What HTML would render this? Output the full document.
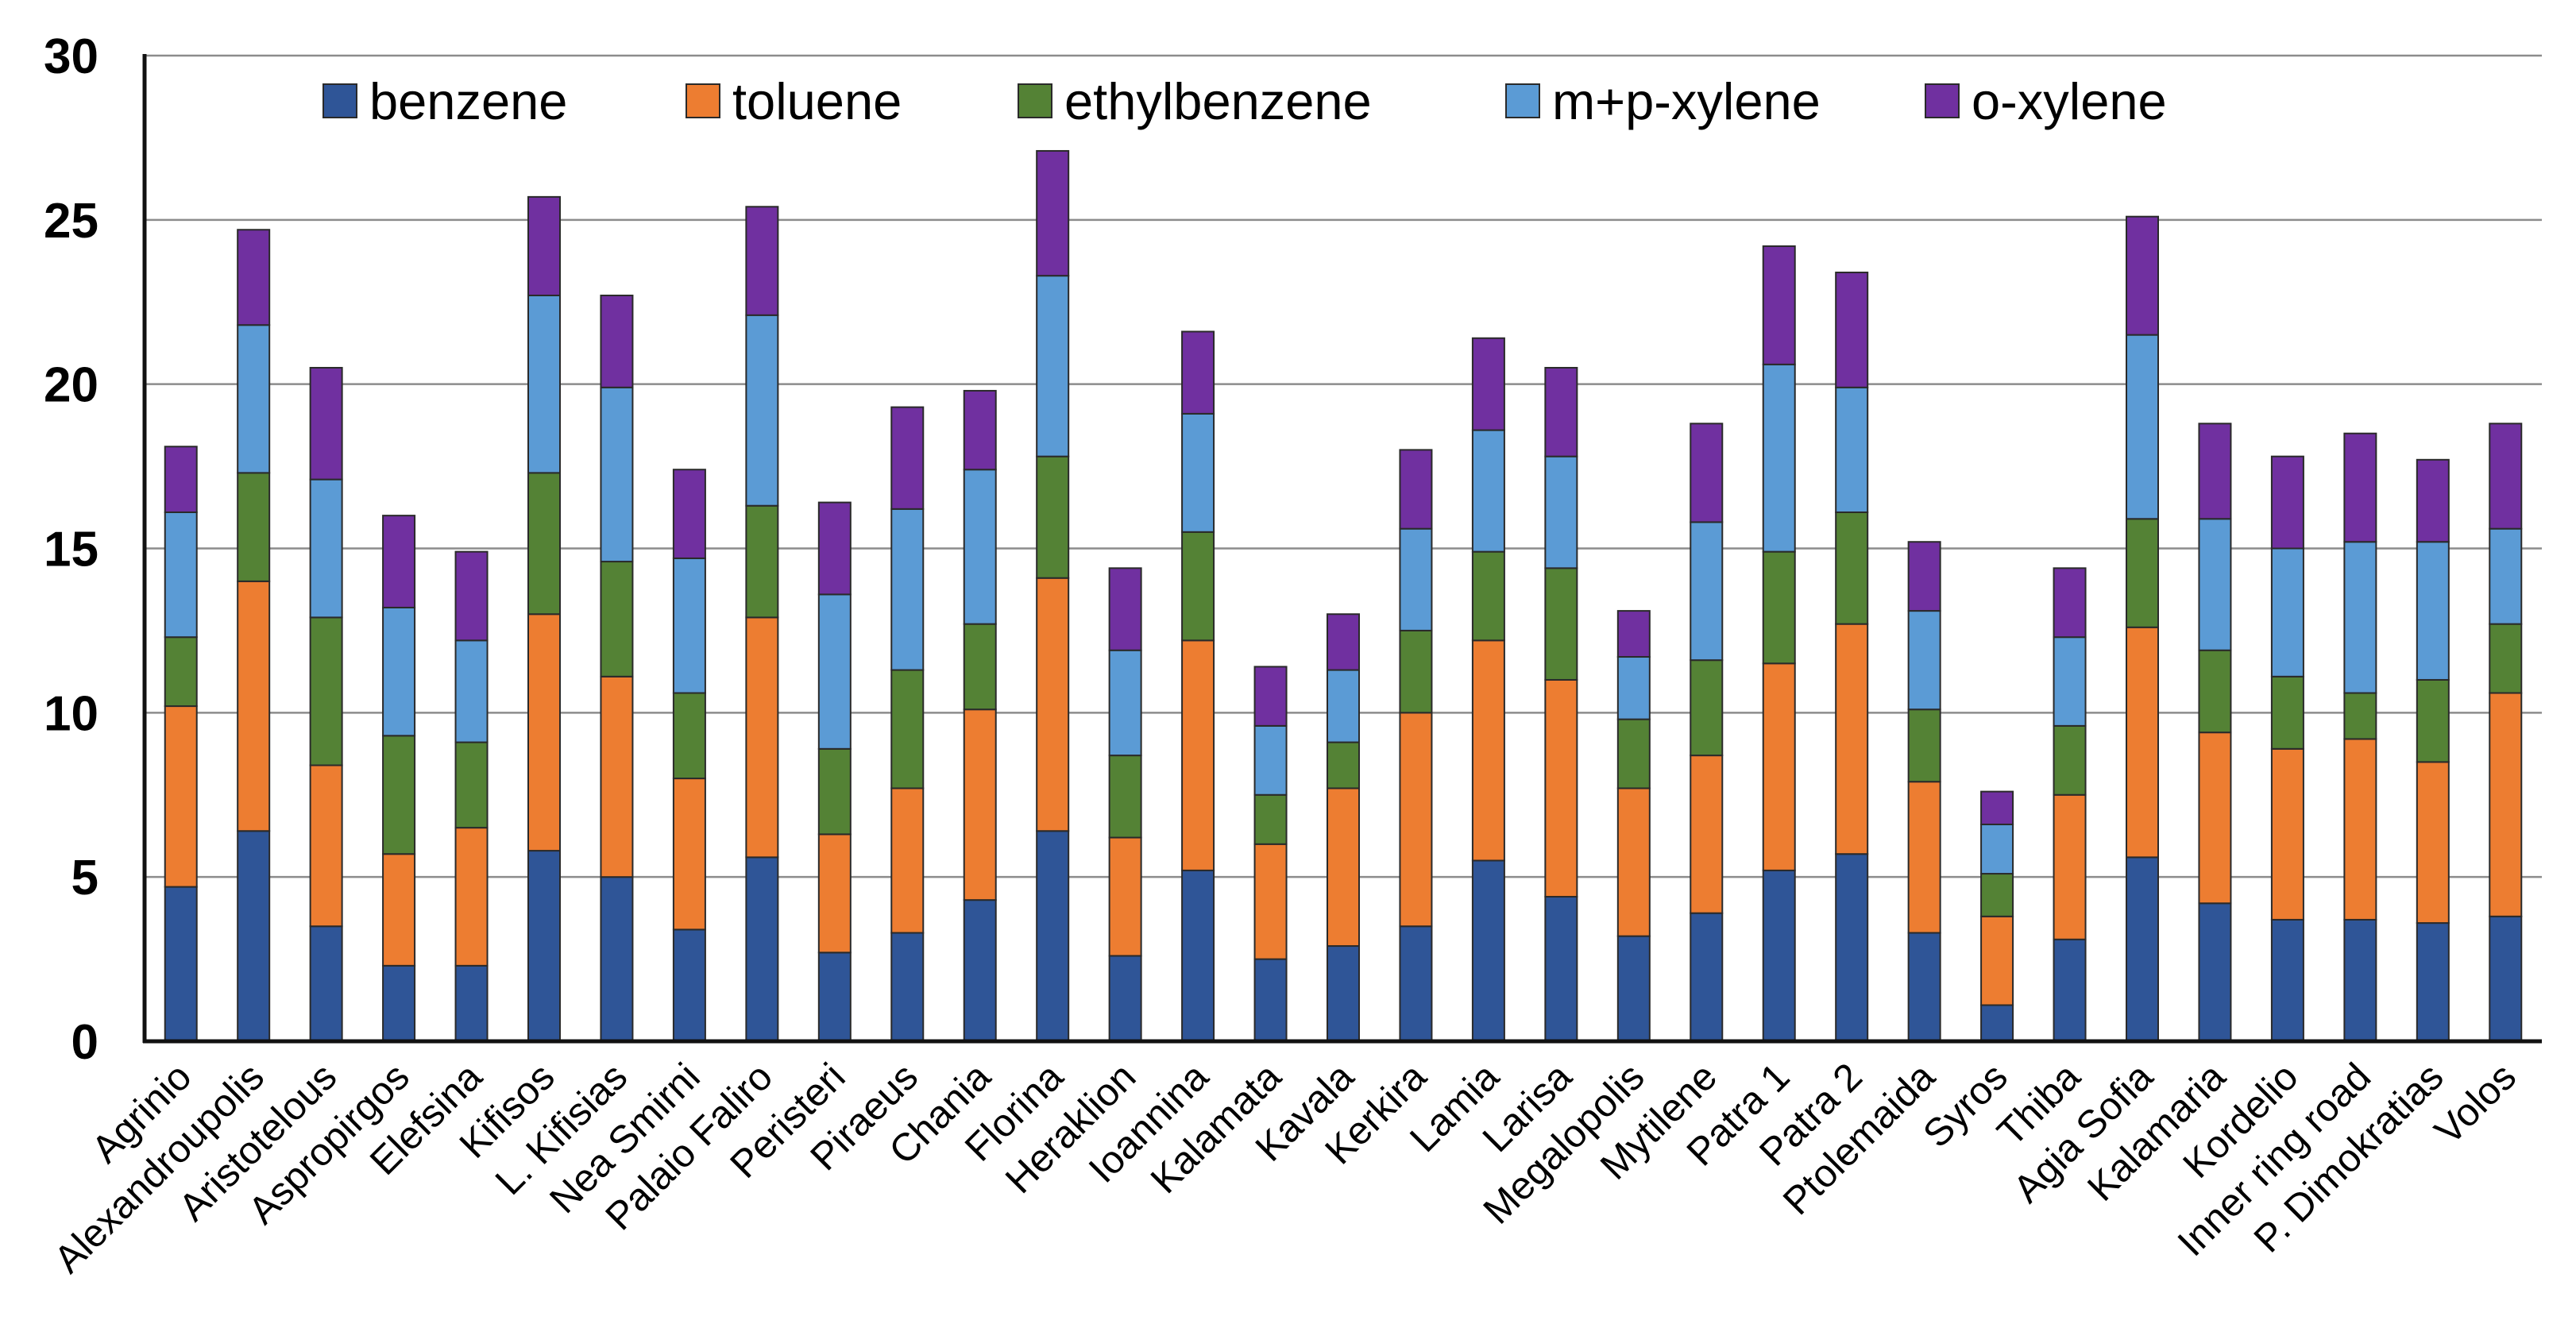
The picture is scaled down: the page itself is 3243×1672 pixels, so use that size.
<!DOCTYPE html>
<html><head><meta charset="utf-8"><style>
html,body{margin:0;padding:0;background:#fff;}
svg{display:block;font-family:"Liberation Sans",Arial,sans-serif;}
</style></head><body>
<svg id="chart" width="3243" height="1672" viewBox="0 0 3243 1672" xmlns="http://www.w3.org/2000/svg">
<g id="grid"></g>
<g id="bars"></g>
<g id="axes"></g>
<g id="ylabels"></g>
<g id="xlabels"></g>
<g id="legend"></g>
</svg>
<script>
const categories = ["Agrinio","Alexandroupolis","Aristotelous","Aspropirgos","Elefsina","Kifisos","L. Kifisias","Nea Smirni","Palaio Faliro","Peristeri","Piraeus","Chania","Florina","Heraklion","Ioannina","Kalamata","Kavala","Kerkira","Lamia","Larisa","Megalopolis","Mytilene","Patra 1","Patra 2","Ptolemaida","Syros","Thiba","Agia Sofia","Kalamaria","Kordelio","Inner ring road","P. Dimokratias","Volos"];
const benzene = [4.7,6.4,3.5,2.3,2.3,5.8,5.0,3.4,5.6,2.7,3.3,4.3,6.4,2.6,5.2,2.5,2.9,3.5,5.5,4.4,3.2,3.9,5.2,5.7,3.3,1.1,3.1,5.6,4.2,3.7,3.7,3.6,3.8];
const toluene = [5.5,7.6,4.9,3.4,4.2,7.2,6.1,4.6,7.3,3.6,4.4,5.8,7.7,3.6,7.0,3.5,4.8,6.5,6.7,6.6,4.5,4.8,6.3,7.0,4.6,2.7,4.4,7.0,5.2,5.2,5.5,4.9,6.8];
const ethylbenzene = [2.1,3.3,4.5,3.6,2.6,4.3,3.5,2.6,3.4,2.6,3.6,2.6,3.7,2.5,3.3,1.5,1.4,2.5,2.7,3.4,2.1,2.9,3.4,3.4,2.2,1.3,2.1,3.3,2.5,2.2,1.4,2.5,2.1];
const mpXylene = [3.8,4.5,4.2,3.9,3.1,5.4,5.3,4.1,5.8,4.7,4.9,4.7,5.5,3.2,3.6,2.1,2.2,3.1,3.7,3.4,1.9,4.2,5.7,3.8,3.0,1.5,2.7,5.6,4.0,3.9,4.6,4.2,2.9];
const oXylene = [2.0,2.9,3.4,2.8,2.7,3.0,2.8,2.7,3.3,2.8,3.1,2.4,3.8,2.5,2.5,1.8,1.7,2.4,2.8,2.7,1.4,3.0,3.6,3.5,2.1,1.0,2.1,3.6,2.9,2.8,3.3,2.5,3.2];
const seriesNames = ["benzene","toluene","ethylbenzene","m+p-xylene","o-xylene"];
const yTicks = [0,5,10,15,20,25,30];

const NS="http://www.w3.org/2000/svg";
const colors=["#2f5597","#ed7d31","#548235","#5b9bd5","#7030a0"];
const L=182,R=3200,T=70,B=1311,yMax=30;
const y=v=>B-(v/yMax)*(B-T);
const step=(R-L)/categories.length;
const xc=i=>L+step*(i+0.5);
const bw=40;
function mk(tag,attrs,parent){const e=document.createElementNS(NS,tag);for(const k in attrs)e.setAttribute(k,attrs[k]);parent.appendChild(e);return e;}
const grid=document.getElementById('grid');
yTicks.forEach(t=>{if(t===0)return;
 const ln=mk('line',{x1:L,x2:R,y1:y(t),y2:y(t),stroke:'#8c8c8c','stroke-width':2.5},grid);
 
 
});
const bars=document.getElementById('bars');
const series=[benzene,toluene,ethylbenzene,mpXylene,oXylene];
categories.forEach((c,i)=>{let cum=0;
 series.forEach((s,k)=>{const v0=cum;cum+=s[i];
  const r=mk('rect',{x:xc(i)-bw/2,y:y(cum),width:bw,height:y(v0)-y(cum),fill:colors[k],stroke:'#2a2a2a','stroke-width':2},bars);
  
  
 });
});
const axes=document.getElementById('axes');
const ya=mk('line',{x1:L,x2:L,y1:T-2,y2:B+2,stroke:'#111','stroke-width':5},axes);


const xa=mk('line',{x1:L-2,x2:R,y1:B,y2:B,stroke:'#111','stroke-width':5},axes);


const yl=document.getElementById('ylabels');
yTicks.forEach(t=>{const tx=mk('text',{x:124,y:y(t)+22,'text-anchor':'end','font-size':62,'font-weight':'bold',fill:'#000'},yl);
 tx.textContent=t;
 
 
});
const xl=document.getElementById('xlabels');
categories.forEach((c,i)=>{const px=xc(i)+16,py=B+48;
 const tx=mk('text',{x:px,y:py,'text-anchor':'end','font-size':49,fill:'#000',transform:`rotate(-45 ${px} ${py})`},xl);
 tx.textContent=c;
 
 
});
const lg=document.getElementById('legend');
const lgX=[407,864,1282,1896,2424];
seriesNames.forEach((n,k)=>{const g=mk('g',{},lg);
 
 
 mk('rect',{x:lgX[k],y:106,width:42,height:42,fill:colors[k],stroke:'#2a2a2a','stroke-width':2},g);
 const tx=mk('text',{x:lgX[k]+58,y:150,'font-size':65,fill:'#000'},g);
 tx.textContent=n;
});
</script>
</body></html>
